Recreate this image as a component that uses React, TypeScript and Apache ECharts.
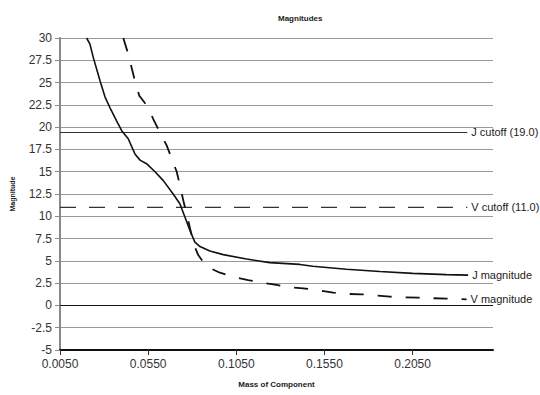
import React, { useEffect, useRef } from "react";
import * as echarts from "echarts";

// ---- axis settings ----
const X_MIN = 0.005;
const X_MAX = 0.2506;
const X_STEP = 0.05;
const Y_MIN = -5;
const Y_MAX = 30;
const Y_STEP = 2.5;

// ---- J magnitude (solid) ----
const jMass = [
  0.0201, 0.022, 0.0239, 0.0277, 0.0305, 0.0333, 0.0371, 0.04, 0.0437, 0.0475,
  0.0504, 0.0541, 0.0589, 0.0636, 0.0692, 0.073, 0.0759, 0.0787, 0.0815, 0.0844,
  0.09, 0.0976, 0.1108, 0.124, 0.1411, 0.1484, 0.1675, 0.1864, 0.2051, 0.2242,
  0.2365,
];
const jMag = [
  30.0, 29.3, 27.8, 25.2, 23.4, 22.2, 20.7, 19.6, 18.7, 17.0,
  16.3, 15.9, 15.0, 14.0, 12.5, 11.4, 9.9, 8.4, 7.1, 6.6,
  6.1, 5.7, 5.2, 4.8, 4.6, 4.4, 4.05, 3.8, 3.6, 3.45,
  3.4,
];

// ---- V magnitude (dashed) ----
const vMass = [
  0.0409, 0.0437, 0.0456, 0.0475, 0.05, 0.0509, 0.0551, 0.0579, 0.0617, 0.0655,
  0.0683, 0.0712, 0.073, 0.0749, 0.0768, 0.0787, 0.081, 0.0834, 0.0882, 0.0957,
  0.1042, 0.1117, 0.1193, 0.1278, 0.1354, 0.1429, 0.1505, 0.16, 0.1675, 0.176,
  0.1836, 0.1921, 0.1996, 0.2081, 0.2157, 0.2242, 0.2356,
];
const vMag = [
  30.0, 28.2, 26.7, 25.2, 23.5, 23.3, 22.2, 20.9, 19.4, 17.95,
  16.5, 15.0, 13.5, 11.8, 10.3, 8.7, 6.8, 5.65, 4.35, 3.67,
  3.15, 2.85, 2.55, 2.3, 2.05, 1.92, 1.73, 1.43, 1.29, 1.25,
  1.14, 0.98, 0.92, 0.87, 0.81, 0.76, 0.69,
];

// ---- cutoff lines ----
const cutoffNames = ["J cutoff (19.0)", "V cutoff (11.0)"];
const cutoffLevels = [19.4, 11.0];
const cutoffEnd = 0.236;

const FONT = "'Liberation Sans', Arial, sans-serif";
const NARROW = "'Liberation Sans Narrow', 'Liberation Sans', Arial, sans-serif";

export default function App() {
  const ref = useRef<HTMLDivElement>(null);
  useEffect(() => {
    if (!ref.current) return;
    const chart = echarts.init(ref.current, undefined, { renderer: "svg" });
    const sx = (m: number) => m - X_MIN; // axis counts ticks from 0
    const pairs = (xs: number[], ys: number[]) => xs.map((x, i) => [sx(x), ys[i]]);

    const endLabel = (text: string) => ({
      show: true,
      formatter: text,
      color: "#222",
      fontSize: 11,
      fontFamily: FONT,
      distance: 4,
    });

    chart.setOption({
      animation: false,
      backgroundColor: "#fff",
      title: {
        text: "Magnitudes",
        left: 273,
        top: 9,
        textStyle: { fontSize: 8, fontWeight: "bold", fontFamily: NARROW, color: "#222" },
      },
      grid: { left: 60, right: 47, top: 38, bottom: 45 },
      xAxis: {
        type: "value",
        min: 0,
        max: X_MAX - X_MIN,
        interval: X_STEP,
        name: "Mass of Component",
        nameLocation: "middle",
        nameGap: 30,
        nameTextStyle: { fontSize: 8, fontWeight: "bold", fontFamily: NARROW, color: "#222" },
        axisLine: { onZero: false, lineStyle: { color: "#111", width: 2 } },
        axisTick: { show: true, length: 5, lineStyle: { color: "#333" } },
        axisLabel: {
          formatter: (v: number) => (v + X_MIN).toFixed(4),
          fontSize: 12,
          color: "#333",
          fontFamily: FONT,
          margin: 8,
          showMaxLabel: false,
        },
        splitLine: { show: false },
      },
      yAxis: {
        type: "value",
        min: Y_MIN,
        max: Y_MAX,
        interval: Y_STEP,
        name: "Magnitude",
        nameLocation: "middle",
        nameGap: 44,
        nameTextStyle: { fontSize: 7, fontWeight: "bold", fontFamily: NARROW, color: "#222" },
        axisLine: { show: true, lineStyle: { color: "#888", width: 2 } },
        axisTick: { show: true, length: 5, lineStyle: { color: "#888" } },
        axisLabel: { fontSize: 12, color: "#333", fontFamily: FONT, margin: 8 },
        splitLine: { show: true, lineStyle: { color: "#999", width: 1 } },
      },
      series: [
        {
          type: "line",
          name: "J magnitude",
          data: pairs(jMass, jMag),
          showSymbol: false,
          symbol: "none",
          lineStyle: { color: "#111", width: 1.6 },
          endLabel: endLabel("J magnitude"),
          markLine: {
            silent: true,
            symbol: "none",
            label: { show: false },
            lineStyle: { color: "#111", width: 1, type: "solid" },
            data: [{ yAxis: 0 }],
          },
          z: 5,
        },
        {
          type: "line",
          name: "V magnitude",
          data: pairs(vMass, vMag),
          showSymbol: false,
          symbol: "none",
          lineStyle: { color: "#111", width: 1.8, type: [14, 14] },
          endLabel: endLabel("V magnitude"),
          z: 5,
        },
        {
          type: "line",
          name: cutoffNames[0],
          data: [[sx(X_MIN), cutoffLevels[0]], [sx(cutoffEnd), cutoffLevels[0]]],
          showSymbol: false,
          symbol: "none",
          lineStyle: { color: "#333", width: 1.2 },
          endLabel: endLabel(cutoffNames[0]),
          z: 4,
        },
        {
          type: "line",
          name: cutoffNames[1],
          data: [[sx(X_MIN), cutoffLevels[1]], [sx(cutoffEnd), cutoffLevels[1]]],
          showSymbol: false,
          symbol: "none",
          lineStyle: { color: "#333", width: 1.2, type: [16, 13] },
          endLabel: endLabel(cutoffNames[1]),
          z: 4,
        },
      ],
    });
    return () => chart.dispose();
  }, []);
  return <div ref={ref} style={{ width: 540, height: 395, position: "absolute", left: 0, top: 0 }} />;
}
